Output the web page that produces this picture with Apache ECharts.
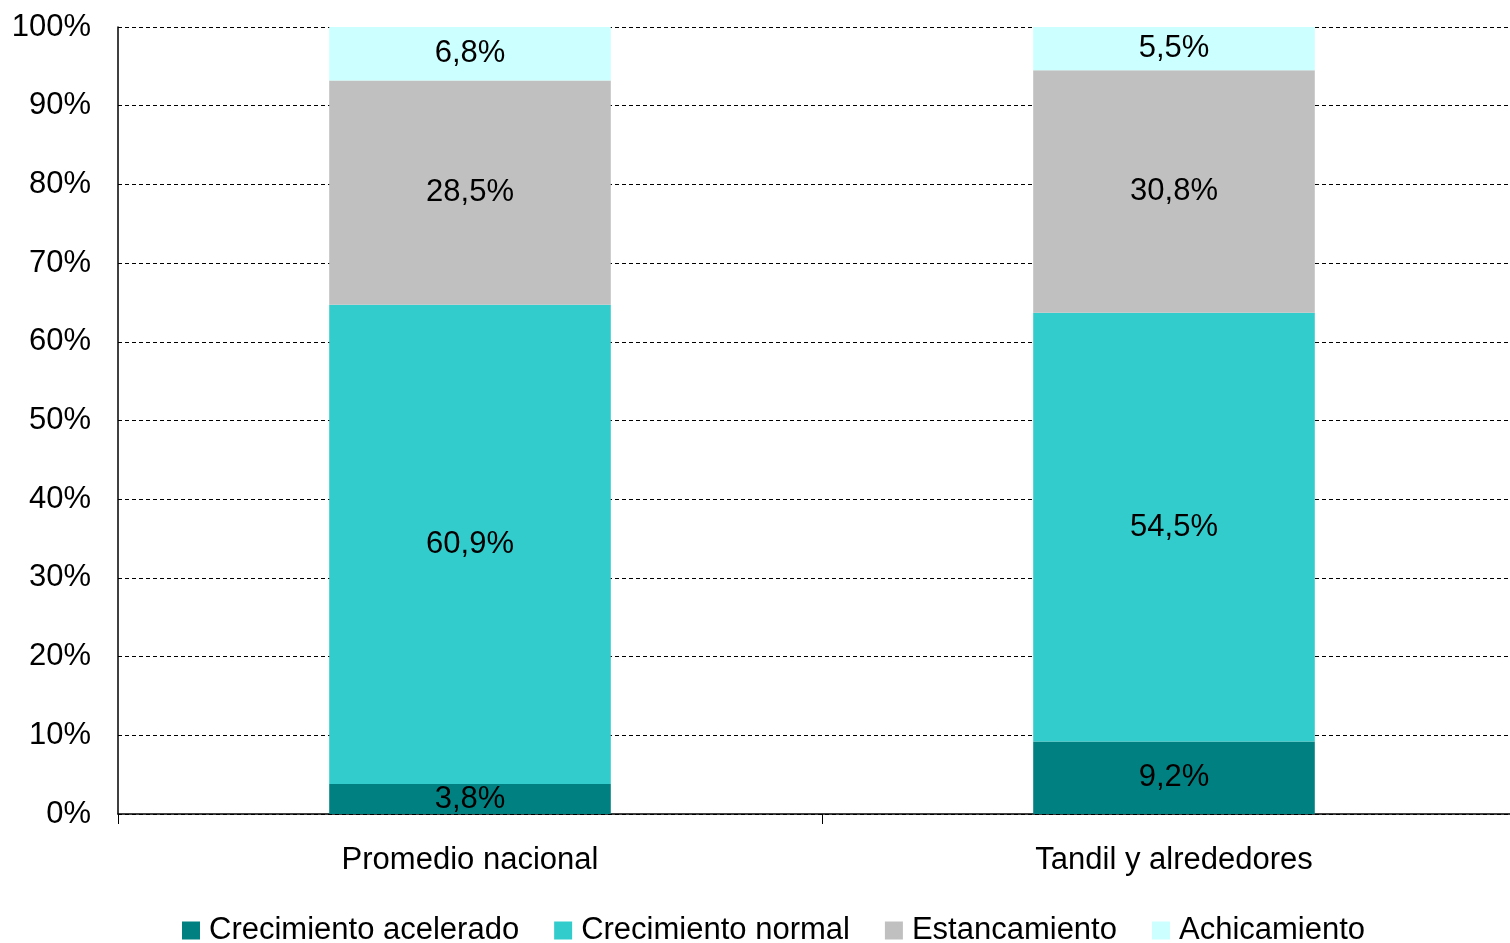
<!DOCTYPE html>
<html><head><meta charset="utf-8">
<script src="https://cdn.jsdelivr.net/npm/echarts@6/dist/echarts.min.js"></script>
<style>html,body{margin:0;padding:0;background:#fff;overflow:hidden;width:1510px;height:943px}#c{width:1526px;height:943px}</style>
</head><body><div id="c"></div>
<script>
const categories = ['Promedio nacional', 'Tandil y alrededores'];
const seriesNames = ['Crecimiento acelerado', 'Crecimiento normal', 'Estancamiento', 'Achicamiento'];
const acelerado = [3.8, 9.2];
const normal = [60.9, 54.5];
const estancamiento = [28.5, 30.8];
const achicamiento = [6.8, 5.5];
const colors = ['#008080', '#33CCCC', '#C0C0C0', '#CCFFFF'];
const values = [acelerado, normal, estancamiento, achicamiento];
const FONT = '"Liberation Sans", Arial, sans-serif';

const chart = echarts.init(document.getElementById('c'));
chart.setOption({
  animation: false,
  textStyle: { fontFamily: FONT },
  grid: { left: 118, right: 0, top: 27, bottom: 129, containLabel: false },
  legend: {
    left: 177, top: 910,
    icon: 'rect',
    itemWidth: 18, itemHeight: 18, itemGap: 35,
    textStyle: { fontSize: 31, color: '#000', fontFamily: FONT, padding: [0, 0, 0, 4] },
    data: seriesNames
  },
  xAxis: {
    type: 'category', data: categories,
    axisLine: { lineStyle: { color: '#000', width: 1.5 } },
    axisTick: { show: true, length: 10, lineStyle: { color: '#000' } },
    axisLabel: { fontSize: 31, color: '#000', margin: 31, fontFamily: FONT }
  },
  yAxis: {
    type: 'value', min: 0, max: 100, interval: 10,
    axisLine: { show: true, lineStyle: { color: '#000', width: 1.5 } },
    axisTick: { show: false },
    axisLabel: { fontSize: 31, color: '#000', margin: 27, formatter: '{value}%', fontFamily: FONT },
    splitLine: { show: true, lineStyle: { color: '#000', type: [4, 3], width: 1 } }
  },
  series: seriesNames.map((n, i) => ({
    name: n, type: 'bar', stack: 'total', barWidth: '40%',
    itemStyle: { color: colors[i] },
    label: {
      show: true, position: 'inside', color: '#000', fontSize: 31, fontFamily: FONT,
      formatter: p => p.value.toFixed(1).replace('.', ',') + '%'
    },
    data: values[i]
  }))
});
</script></body></html>
